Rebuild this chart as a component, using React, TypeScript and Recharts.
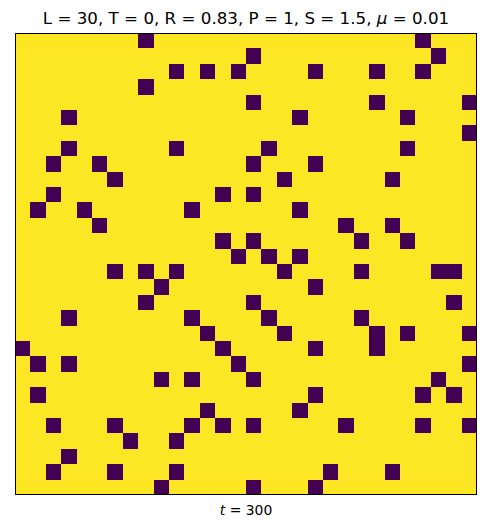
import React from 'react'
import { ScatterChart, Scatter, XAxis, YAxis } from 'recharts'

// lattice size and the time step shown
const L = 30
const STEP = 300

// columns of the purple (state 0) cells, one list per row from the top
const PURPLE_ROWS: number[][] = [
  [8, 26],
  [15, 27],
  [10, 12, 14, 19, 23, 26],
  [8],
  [15, 23, 29],
  [3, 18, 25],
  [29],
  [3, 10, 16, 25],
  [2, 5, 15, 19],
  [6, 17, 24],
  [2, 13, 15],
  [1, 4, 11, 18],
  [5, 21, 24],
  [13, 15, 22, 25],
  [14, 16, 18],
  [6, 8, 10, 17, 22, 27, 28],
  [9, 19],
  [8, 15, 28],
  [3, 11, 16, 22],
  [12, 17, 23, 25, 29],
  [0, 13, 19, 23],
  [1, 3, 14, 29],
  [9, 11, 15, 27],
  [1, 19, 26, 28],
  [12, 18],
  [2, 6, 11, 13, 15, 21, 26, 29],
  [7, 10],
  [3],
  [2, 6, 10, 20, 24],
  [9, 15, 19],
]

const TITLE = 'L = 30, T = 0, R = 0.83, P = 1, S = 1.5, '
const MU = 0.01

const YELLOW = '#fde725'
const PURPLE = '#440154'

const W = 486
const H = 529
const M = { top: 33, right: 9, bottom: 34, left: 15 }
const PLOT = W - M.left - M.right
const CELL = PLOT / L

interface CellPoint {
  x: number
  y: number
  v: number
}

const cells: CellPoint[] = []
for (let r = 0; r < L; r++) {
  for (let c = 0; c < L; c++) {
    cells.push({ x: c + 0.5, y: r + 0.5, v: PURPLE_ROWS[r].includes(c) ? 0 : 1 })
  }
}

function renderCell(props: any) {
  const { cx, cy, payload } = props
  return (
    <rect
      x={cx - CELL / 2}
      y={cy - CELL / 2}
      width={CELL}
      height={CELL}
      fill={payload.v === 0 ? PURPLE : YELLOW}
      shapeRendering="crispEdges"
    />
  )
}

const font = '"DejaVu Sans", sans-serif'

export default function App() {
  return (
    <div style={{ position: 'relative', width: W, height: H, background: '#fff', fontFamily: font }}>
      <style>{'body{margin:0}'}</style>
      <div style={{ position: 'absolute', left: M.left, width: PLOT, top: 8, textAlign: 'center', fontSize: 16.7, color: '#000' }}>
        {TITLE}<i>μ</i> = {MU}
      </div>
      <ScatterChart width={W} height={H} margin={M}>
        <XAxis type="number" dataKey="x" domain={[0, L]} hide />
        <YAxis type="number" dataKey="y" domain={[0, L]} reversed hide />
        <Scatter data={cells} shape={renderCell} isAnimationActive={false} />
      </ScatterChart>
      {/* axes frame */}
      <div
        style={{
          position: 'absolute', left: M.left, top: M.top, width: PLOT, height: PLOT,
          border: '1px solid #000', boxSizing: 'border-box', pointerEvents: 'none',
        }}
      />
      <div style={{ position: 'absolute', left: M.left, width: PLOT, top: 502, textAlign: 'center', fontSize: 13.9, color: '#000' }}>
        <i>t</i> = {STEP}
      </div>
    </div>
  )
}
